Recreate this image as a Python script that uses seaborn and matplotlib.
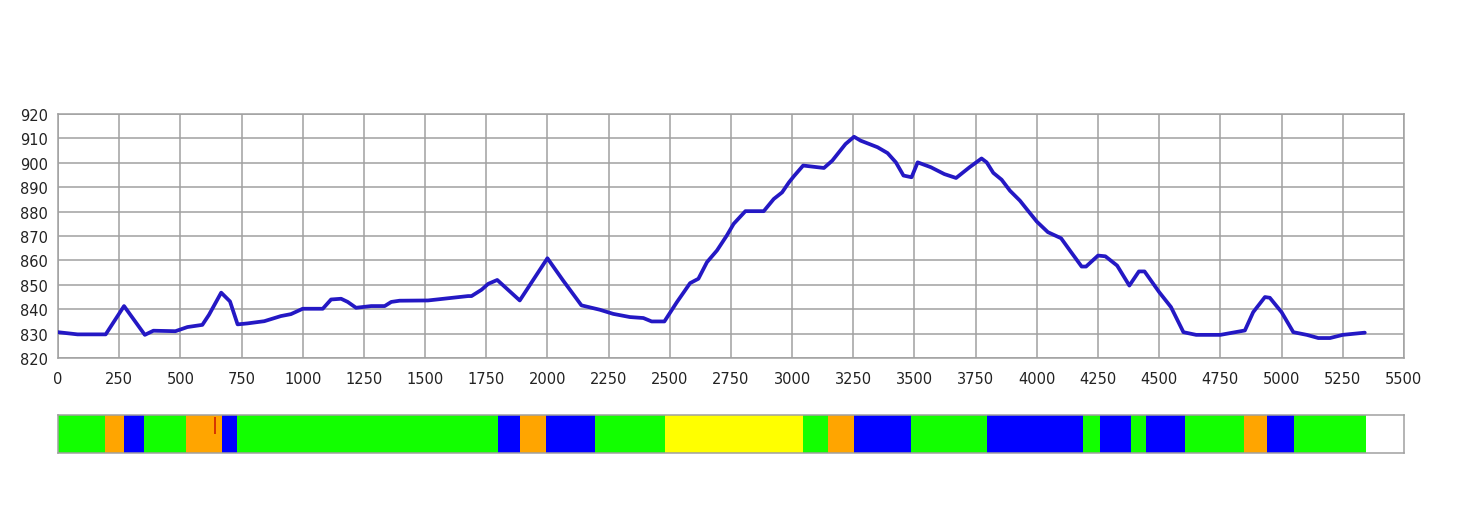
import numpy as np
import pandas as pd
import matplotlib
matplotlib.use("Agg")
import matplotlib.pyplot as plt
import seaborn as sns

# elevation profile (distance in m, altitude in m)
dist = [0, 80, 195, 270, 355, 390, 480, 529, 590, 617, 667, 703, 734, 775, 843,
        911, 952, 1000, 1082, 1116, 1157, 1184, 1218, 1280, 1335, 1362, 1396,
        1512, 1676, 1690, 1731, 1758, 1795, 1887, 2000, 2064, 2139, 2214, 2269,
        2337, 2392, 2426, 2478, 2529, 2583, 2617, 2652, 2693, 2733, 2761, 2809,
        2884, 2925, 2959, 2987, 3007, 3045, 3130, 3164, 3218, 3253, 3280, 3349,
        3390, 3424, 3455, 3488, 3513, 3567, 3622, 3670, 3725, 3774, 3795, 3822,
        3856, 3890, 3931, 3958, 4000, 4045, 4099, 4140, 4183, 4201, 4250, 4280,
        4328, 4378, 4417, 4440, 4500, 4548, 4599, 4651, 4750, 4850, 4884, 4932,
        4952, 5000, 5048, 5103, 5150, 5198, 5250, 5340]
elev = [830.6, 829.7, 829.7, 841.3, 829.5, 831.2, 831.0, 832.7, 833.6, 837.7,
        846.8, 843.2, 833.8, 834.2, 835.1, 837.2, 838.0, 840.2, 840.2, 844.0,
        844.3, 843.0, 840.6, 841.3, 841.3, 843.0, 843.5, 843.6, 845.4, 845.4,
        848.0, 850.4, 852.0, 843.6, 860.9, 851.8, 841.6, 839.8, 838.1, 836.8,
        836.4, 835.0, 835.0, 842.9, 850.7, 852.5, 859.3, 864.1, 870.2, 875.0,
        880.2, 880.2, 885.2, 887.9, 892.0, 894.5, 898.9, 897.9, 900.9, 907.7,
        910.7, 909.1, 906.4, 904.0, 900.2, 894.8, 894.1, 900.2, 898.2, 895.4,
        893.8, 898.2, 901.8, 900.2, 895.9, 893.1, 888.6, 884.5, 881.1, 875.9,
        871.6, 869.1, 863.4, 857.5, 857.5, 862.0, 861.7, 857.9, 849.7, 855.5,
        855.5, 847.0, 840.9, 830.6, 829.5, 829.5, 831.3, 838.8, 845.0, 844.7,
        838.8, 830.6, 829.5, 828.2, 828.2, 829.5, 830.4]

# surface / gradient strip below the profile
seg_bounds = [0, 191, 268, 353, 525, 669, 731, 1798, 1888, 1996, 2193, 2479,
              3043, 3147, 3253, 3485, 3795, 4190, 4260, 4383, 4445, 4607, 4848,
              4942, 5049, 5344]
seg_kind = ["green", "orange", "blue", "green", "orange", "blue", "green",
            "blue", "orange", "blue", "green", "yellow", "green", "orange",
            "blue", "green", "blue", "green", "blue", "green", "blue", "green",
            "orange", "blue", "green"]
red_marks = [642]

x_ticks = list(range(0, 5501, 250))
y_ticks = list(range(820, 921, 10))

kind_colors = {"green": "#12ff00", "orange": "#ffa500",
               "blue": "#0000ff", "yellow": "#ffff00"}

sns.set_style("white")
plt.rcParams["font.family"] = ["DejaVu Sans"]

fig = plt.figure(figsize=(14.6, 5.1), dpi=100)
ax = fig.add_axes([0.0397, 0.296, 0.9219, 0.4784])

df = pd.DataFrame({"dist": dist, "elev": elev})
sns.lineplot(data=df, x="dist", y="elev", ax=ax, color="#2418c4",
             linewidth=2.7, zorder=3)

ax.set_xlim(0, 5500)
ax.set_ylim(820, 920)
ax.set_xticks(x_ticks)
ax.set_yticks(y_ticks)
ax.grid(True, color="#a0a0a0", linewidth=1.1)
ax.set_axisbelow(True)
ax.tick_params(length=0, labelsize=10.5, colors="#222222")
ax.tick_params(axis="y", pad=7)
ax.tick_params(axis="x", pad=9)
ax.set_xlabel("")
ax.set_ylabel("")
for s in ax.spines.values():
    s.set_color("#a0a0a0")
    s.set_linewidth(1.1)

# strip
sx = fig.add_axes([0.0397, 0.1098, 0.9219, 0.0745])
starts = seg_bounds[:-1]
widths = np.diff(seg_bounds)
sx.broken_barh(list(zip(starts, widths)), (0, 1),
               facecolors=[kind_colors[k] for k in seg_kind], linewidth=0)
for m in red_marks:
    sx.vlines(m, 0.5, 0.95, color="#d02000", linewidth=1.2)
sx.set_xlim(0, 5500)
sx.set_ylim(0, 1)
sx.set_xticks([])
sx.set_yticks([])
for s in sx.spines.values():
    s.set_color("#a0a0a0")
    s.set_linewidth(1.1)

fig.savefig("out.png", dpi=100)
